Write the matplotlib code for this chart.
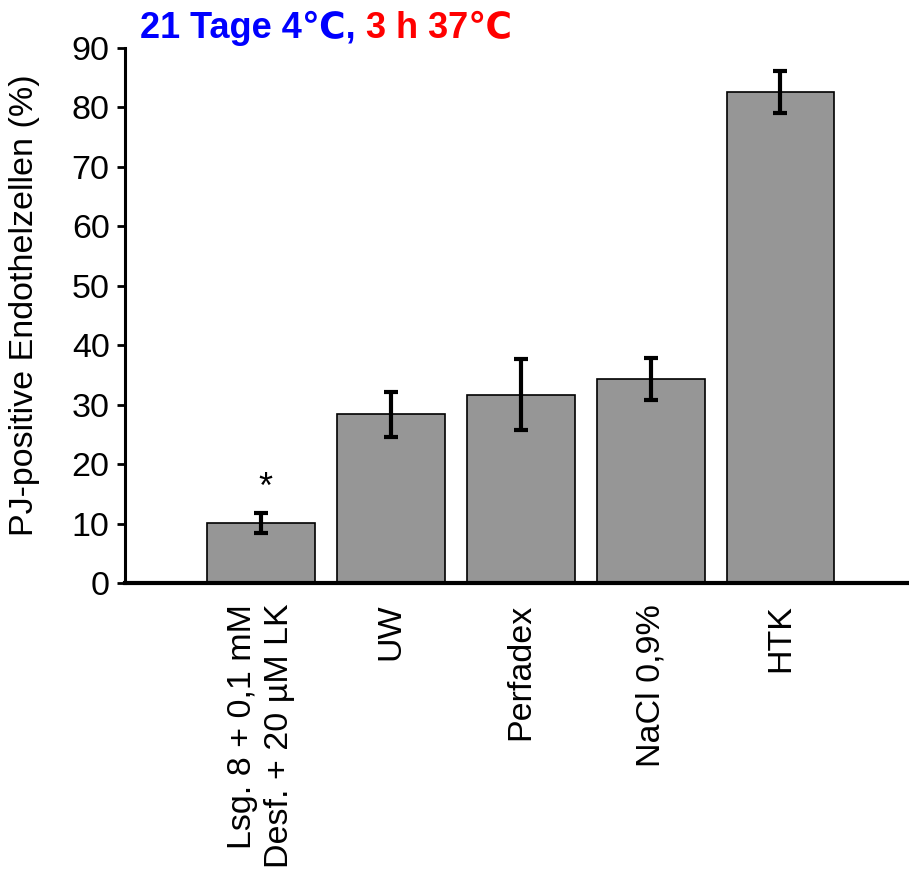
import matplotlib
matplotlib.use("Agg")
import matplotlib.pyplot as plt
import numpy as np

plt.rcParams['font.family'] = ['Liberation Sans', 'DejaVu Sans']

categories = ["Lsg. 8 + 0,1 mM\nDesf. + 20 µM LK", "UW", "Perfadex", "NaCl 0,9%", "HTK"]
values = [10.1, 28.4, 31.7, 34.3, 82.6]
errors = [1.7, 3.8, 6.0, 3.6, 3.5]
yticks = [0, 10, 20, 30, 40, 50, 60, 70, 80, 90]

fig = plt.figure(figsize=(9.09, 8.90), dpi=100)
ax = fig.add_axes([0.1375, 0.345, 0.8625, 0.601])

x = np.arange(len(categories))
ax.bar(x, values, width=0.83, color='#969696', edgecolor='black', linewidth=1.2, zorder=2)
ax.errorbar(x, values, yerr=errors, fmt='none', ecolor='black', elinewidth=3,
            capsize=5, capthick=3, zorder=3)

ax.text(x[0] + 0.03, values[0] + errors[0] + 1.2, '*', ha='center', va='bottom', fontsize=26)

ax.set_xlim(-1.05, 4.99)
ax.set_ylim(0, 90)
ax.set_yticks(yticks)
ax.set_yticklabels([str(v) for v in yticks], fontsize=24.5)
ax.set_xticks(x)
ax.set_xticklabels(categories, rotation=90, fontsize=24.5, va='top', ha='center',
                   multialignment='right', linespacing=1.25)
ax.tick_params(axis='x', length=0, pad=15)
ax.tick_params(axis='y', length=6, width=2, direction='out', pad=5)

for s in ['top', 'right']:
    ax.spines[s].set_visible(False)
ax.spines['left'].set_linewidth(2.2)
ax.spines['bottom'].set_linewidth(3)

ax.set_ylabel('PJ-positive Endothelzellen (%)', fontsize=24.5)
ax.yaxis.set_label_coords(-0.108, 0.52)

fig.text(0.154, 0.957, '21 Tage 4\u2103, ', color='#0000FF', fontsize=26, fontweight='bold',
         ha='left', va='baseline')
t1 = fig.texts[-1]
fig.canvas.draw()
bb = t1.get_window_extent()
x1 = bb.x1 / fig.bbox.width
fig.text(x1, 0.957, '3 h 37\u2103', color='#FF0000', fontsize=26, fontweight='bold',
         ha='left', va='baseline')

fig.savefig('out.png', dpi=100)
